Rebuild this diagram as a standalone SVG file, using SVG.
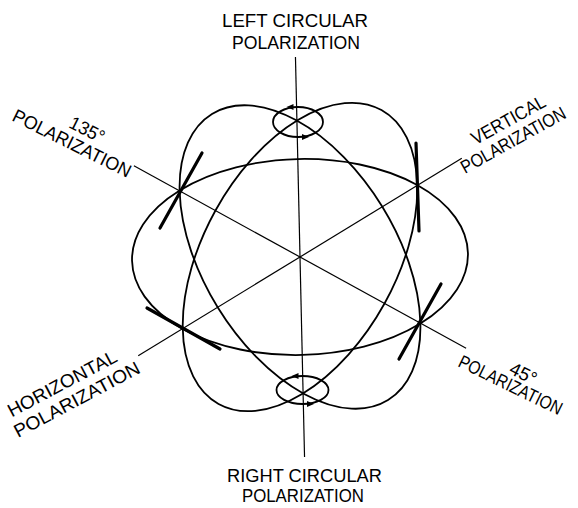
<svg xmlns="http://www.w3.org/2000/svg" width="578" height="508" viewBox="0 0 578 508">
<style>
.bg{fill:#fff}
.curve{fill:none;stroke:#000;stroke-width:1.8}
.axis{fill:none;stroke:#000;stroke-width:1.2}
.tick{fill:none;stroke:#000;stroke-width:3.2;stroke-linecap:round}
.small{fill:none;stroke:#000;stroke-width:1.8}
.arr{fill:#000;stroke:none}
text{font-family:"Liberation Sans",Arial,sans-serif;font-size:18.5px;fill:#000}
</style>
<rect class="bg" x="0" y="0" width="578" height="508"/>
<g id="connectors">
  <g id="sphere" transform="rotate(-1.3 300 257)">
    <line class="axis" x1="300" y1="57" x2="300" y2="457"/>
    <line class="axis" x1="136" y1="162" x2="464" y2="352"/>
    <line class="axis" x1="136" y1="352" x2="464" y2="162"/>
    <ellipse id="equator" class="curve" cx="300" cy="257" rx="168" ry="98"/>
    <ellipse id="meridian-135-45" class="curve" cx="300" cy="257" rx="168" ry="96.5" transform="rotate(59.7 300 257)"/>
    <ellipse id="meridian-v-h" class="curve" cx="300" cy="257" rx="168" ry="96.5" transform="rotate(-59.7 300 257)"/>
  </g>
</g>
<g id="left-circular">
  <ellipse class="small" cx="298" cy="122" rx="25" ry="15"/>
  <polygon class="arr" points="286.5,107 293.5,104 293.5,110"/>
  <polygon class="arr" points="309,137 302,134 302,140"/>
  <text x="295" y="27" text-anchor="middle" textLength="146" lengthAdjust="spacingAndGlyphs">LEFT CIRCULAR</text>
  <text x="296" y="49" text-anchor="middle" textLength="128" lengthAdjust="spacingAndGlyphs">POLARIZATION</text>
</g>
<g id="right-circular">
  <ellipse class="small" cx="302.5" cy="390" rx="26" ry="14"/>
  <polygon class="arr" points="291.5,376 298.5,373 298.5,379"/>
  <polygon class="arr" points="314,404 307,401 307,407"/>
  <text x="304.5" y="482" text-anchor="middle" textLength="155" lengthAdjust="spacingAndGlyphs">RIGHT CIRCULAR</text>
  <text x="303" y="502" text-anchor="middle" textLength="122" lengthAdjust="spacingAndGlyphs">POLARIZATION</text>
</g>
<g id="pol-135">
  <line class="tick" x1="202" y1="153" x2="160" y2="228"/>
  <g transform="translate(11,120) rotate(26.5)">
    <text x="54" y="-19" textLength="37" lengthAdjust="spacingAndGlyphs">135°</text>
    <text x="0" y="0" textLength="130" lengthAdjust="spacingAndGlyphs">POLARIZATION</text>
  </g>
</g>
<g id="pol-vertical">
  <line class="tick" x1="416" y1="143" x2="419" y2="231"/>
  <g transform="translate(465,174) rotate(-29)">
    <text x="23" y="-20" textLength="82" lengthAdjust="spacingAndGlyphs">VERTICAL</text>
    <text x="0" y="0" textLength="117" lengthAdjust="spacingAndGlyphs">POLARIZATION</text>
  </g>
</g>
<g id="pol-horizontal">
  <line class="tick" x1="147" y1="308" x2="220" y2="349"/>
  <g transform="translate(18,438) rotate(-28)">
    <text x="4" y="-21" textLength="121" lengthAdjust="spacingAndGlyphs">HORIZONTAL</text>
    <text x="0" y="0" textLength="140" lengthAdjust="spacingAndGlyphs">POLARIZATION</text>
  </g>
</g>
<g id="pol-45">
  <line class="tick" x1="441" y1="284" x2="399" y2="359"/>
  <g transform="translate(457,366) rotate(26)">
    <text x="49" y="-16" textLength="28" lengthAdjust="spacingAndGlyphs">45°</text>
    <text x="0" y="0" textLength="113" lengthAdjust="spacingAndGlyphs">POLARIZATION</text>
  </g>
</g>
</svg>
